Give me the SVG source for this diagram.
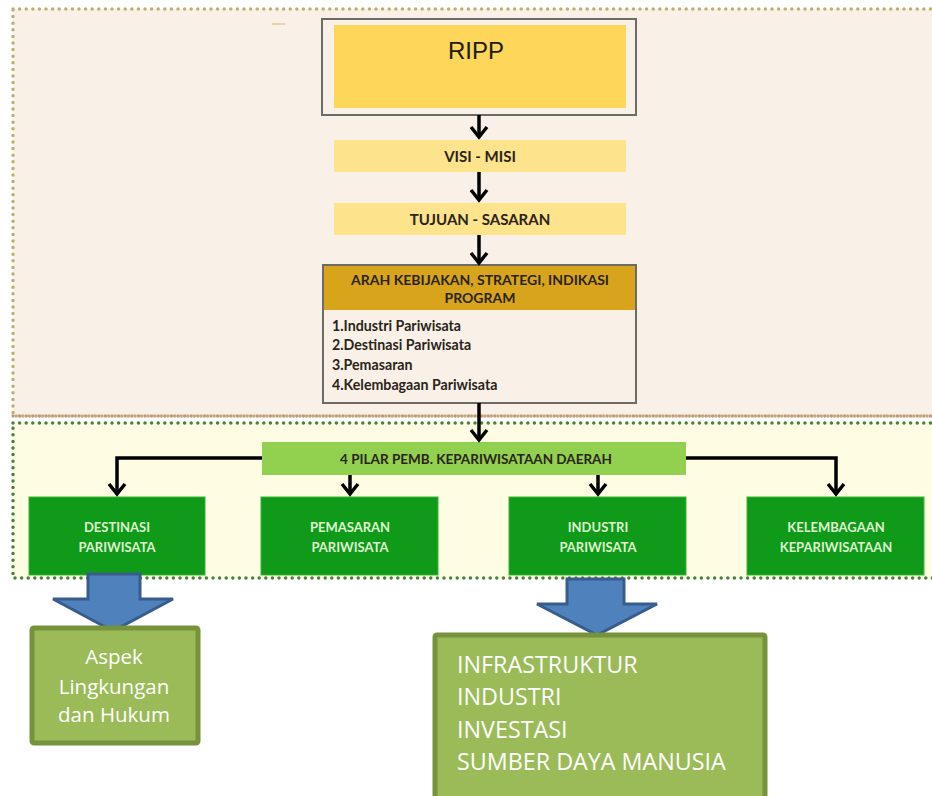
<svg xmlns="http://www.w3.org/2000/svg" width="932" height="796" viewBox="0 0 932 796">
  <style>
    .hd { font-family: Lato, "Open Sans", sans-serif; font-weight: 700; fill: #2a2418; text-anchor: middle; }
    .li { font-family: Lato, "Open Sans", sans-serif; font-weight: 700; fill: #2a2418; font-size: 14.2px; }
    .gb { fill: #0f9a19; stroke: #3cb33a; stroke-width: 1; }
    .gt { font-family: Lato, "Open Sans", sans-serif; font-weight: 700; fill: #dff3cf; font-size: 13px; text-anchor: middle; }
    .ylw { fill: #fde38c; }
    .conn { fill: none; stroke: #000; stroke-width: 3.5; }
    .blk { fill: #4f81bd; stroke: #385d8a; stroke-width: 3; stroke-linejoin: miter; }
    .ob { fill: #9bbb59; stroke: #76923c; stroke-width: 5; }
    .ot { font-family: "Open Sans", Lato, sans-serif; fill: #ffffff; }
  </style>
  <defs>
    <marker id="chev" markerUnits="userSpaceOnUse" markerWidth="24" markerHeight="24" viewBox="-12 -12 24 24" refX="0" refY="0" orient="auto" overflow="visible">
      <path d="M-10,-8 L0,0 L-10,8" fill="none" stroke="#000" stroke-width="3.5" stroke-linejoin="miter"/>
    </marker>
  </defs>

  <rect width="932" height="796" fill="#ffffff"/>

  <!-- upper panel: planning documents -->
  <rect x="13" y="9" width="930" height="407" fill="#f9f1e8" stroke="#bcb070" stroke-width="3.5" stroke-linecap="round" stroke-dasharray="0 6.6"/>
  <line x1="13" y1="416" x2="932" y2="416" stroke="#c99684" stroke-width="3.5" stroke-linecap="round" stroke-dasharray="0 6.6"/>
  <line x1="272" y1="24" x2="285" y2="24" stroke="#e3c98f" stroke-width="1.5"/>

  <!-- lower panel: development pillars -->
  <rect x="13" y="423" width="930" height="155" fill="#fefde3" stroke="#45833a" stroke-width="3.5" stroke-linecap="round" stroke-dasharray="0 6.6"/>

  <g id="ripp">
    <rect x="322" y="19" width="314" height="96" fill="#f9f1e8" stroke="#6e6a66" stroke-width="2"/>
    <rect x="334" y="25" width="292" height="83" fill="#fdd65a"/>
    <text x="476" y="59" font-family="'Liberation Sans', Arial, sans-serif" font-size="24" fill="#1e1a12" text-anchor="middle">RIPP</text>
  </g>

  <g id="visi-misi">
    <rect class="ylw" x="334" y="140" width="292" height="32"/>
    <text class="hd" x="480" y="161.5" font-size="15">VISI - MISI</text>
  </g>

  <g id="tujuan-sasaran">
    <rect class="ylw" x="334" y="203" width="292" height="32"/>
    <text class="hd" x="480" y="224.5" font-size="15">TUJUAN - SASARAN</text>
  </g>

  <g id="arah-kebijakan">
    <rect x="323" y="265" width="313" height="138" fill="#f9f1e8" stroke="#6e6a66" stroke-width="2"/>
    <rect x="324" y="266" width="311" height="44" fill="#d7a41c"/>
    <text class="hd" x="480" y="285" font-size="14">ARAH KEBIJAKAN, STRATEGI, INDIKASI</text>
    <text class="hd" x="480" y="303" font-size="14">PROGRAM</text>
    <text class="li" x="332" y="331">1.Industri Pariwisata</text>
    <text class="li" x="332" y="350">2.Destinasi Pariwisata</text>
    <text class="li" x="332" y="370">3.Pemasaran</text>
    <text class="li" x="332" y="390">4.Kelembagaan Pariwisata</text>
  </g>

  <g id="empat-pilar">
    <rect x="262" y="442" width="424" height="33" fill="#92d050"/>
    <text class="hd" x="476" y="463.5" font-size="13.5">4 PILAR PEMB. KEPARIWISATAAN DAERAH</text>
  </g>

  <g id="destinasi">
    <rect class="gb" x="29" y="497" width="176" height="78"/>
    <text class="gt" x="117" y="532">DESTINASI</text>
    <text class="gt" x="117" y="552">PARIWISATA</text>
  </g>

  <g id="pemasaran">
    <rect class="gb" x="261" y="497" width="177" height="78"/>
    <text class="gt" x="350" y="532">PEMASARAN</text>
    <text class="gt" x="350" y="552">PARIWISATA</text>
  </g>

  <g id="industri">
    <rect class="gb" x="509" y="497" width="177" height="78"/>
    <text class="gt" x="598" y="532">INDUSTRI</text>
    <text class="gt" x="598" y="552">PARIWISATA</text>
  </g>

  <g id="kelembagaan">
    <rect class="gb" x="747" y="497" width="177" height="78"/>
    <text class="gt" x="836" y="532">KELEMBAGAAN</text>
    <text class="gt" x="836" y="552">KEPARIWISATAAN</text>
  </g>

  <g id="connectors">
    <line class="conn" x1="479" y1="115" x2="479" y2="137" marker-end="url(#chev)"/>
    <line class="conn" x1="479" y1="172" x2="479" y2="200" marker-end="url(#chev)"/>
    <line class="conn" x1="479" y1="235" x2="479" y2="263" marker-end="url(#chev)"/>
    <line class="conn" x1="479" y1="403" x2="479" y2="440" marker-end="url(#chev)"/>
    <polyline class="conn" points="262,458 117,458 117,494" marker-end="url(#chev)"/>
    <polyline class="conn" points="686,458 836,458 836,494" marker-end="url(#chev)"/>
    <line class="conn" x1="350" y1="475" x2="350" y2="494" marker-end="url(#chev)"/>
    <line class="conn" x1="598" y1="475" x2="598" y2="494" marker-end="url(#chev)"/>
  </g>

  <g id="aspek">
    <path class="blk" d="M88,574 L140,574 L140,599 L173,599 L113,631 L53,599 L88,599 Z"/>
    <rect class="ob" x="32" y="628" width="166" height="115" rx="2"/>
    <g class="ot" font-size="20.5" text-anchor="middle">
      <text x="114" y="664">Aspek</text>
      <text x="114" y="694">Lingkungan</text>
      <text x="114" y="722">dan Hukum</text>
    </g>
  </g>

  <g id="faktor-pendukung">
    <path class="blk" d="M567,579 L624,579 L624,604 L657,604 L597,635 L537,604 L567,604 Z"/>
    <rect class="ob" x="435" y="635" width="330" height="170" rx="2"/>
    <g class="ot" font-size="23.3">
      <text x="457" y="673">INFRASTRUKTUR</text>
      <text x="457" y="705">INDUSTRI</text>
      <text x="457" y="738">INVESTASI</text>
      <text x="457" y="770">SUMBER DAYA MANUSIA</text>
    </g>
  </g>
</svg>
